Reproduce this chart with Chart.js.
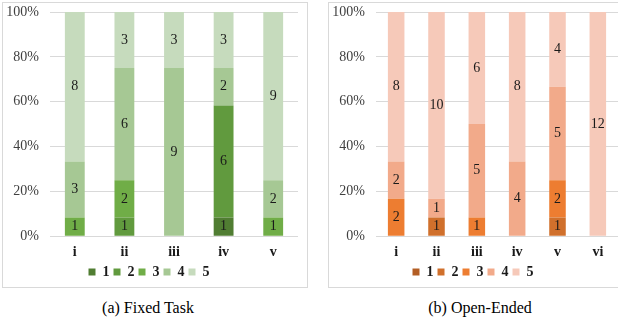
<!DOCTYPE html>
<html>
<head>
<meta charset="utf-8">
<script src="https://cdn.jsdelivr.net/npm/chart.js"></script>
<style>
  body { margin: 0; background: #fff; width: 618px; height: 318px; overflow: hidden; position: relative; font-family: "Liberation Serif", "Times New Roman", "DejaVu Serif", serif; }
  .box { position: absolute; border: 1px solid #d9d9d9; }
  .cv { position: absolute; }
  .cap { position: absolute; top: 299px; font-size: 16px; color: #000; text-align: center; }
</style>
</head>
<body>
<div class="box" style="left:2px; top:2px; width:304px; height:284px;"></div>
<div class="box" style="left:328px; top:2px; width:300px; height:284px;"></div>
<div class="cv" style="left:0px; top:0px; width:306px; height:290px;"><canvas id="fixedChart"></canvas></div>
<div class="cv" style="left:328px; top:0px; width:290px; height:290px;"><canvas id="openChart"></canvas></div>
<div class="cap" style="left:48px; width:200px;">(a) Fixed Task</div>
<div class="cap" style="left:380px; width:200px;">(b) Open-Ended</div>
<script>
var levels = ["1", "2", "3", "4", "5"];
var yTicks = [0, 20, 40, 60, 80, 100];

// Fixed Task: counts per level for each task
var fixedTasks = ["i", "ii", "iii", "iv", "v"];
var fixed1 = [0, 0, 0, 1, 0];
var fixed2 = [0, 1, 0, 6, 0];
var fixed3 = [1, 2, 0, 0, 1];
var fixed4 = [3, 6, 9, 2, 2];
var fixed5 = [8, 3, 3, 3, 9];
var greenColors = ["#507d32", "#619a3e", "#70ad47", "#a6c894", "#c6dbbd"];

// Open-Ended
var openTasks = ["i", "ii", "iii", "iv", "v", "vi"];
var open1 = [0, 0, 0, 0, 0, 0];
var open2 = [0, 1, 0, 0, 1, 0];
var open3 = [2, 0, 1, 0, 2, 0];
var open4 = [2, 1, 5, 4, 5, 0];
var open5 = [8, 10, 6, 8, 4, 12];
var orangeColors = ["#b35e24", "#d0702c", "#ed7d31", "#f2aa8a", "#f6c9b9"];

var serif = "Liberation Serif, Times New Roman, DejaVu Serif, serif";

function makeDatasets(series, colors) {
  var totals = series[0].map(function (v, i) {
    return series.reduce(function (s, arr) { return s + arr[i]; }, 0);
  });
  return series.map(function (arr, k) {
    return {
      label: levels[k],
      counts: arr,
      data: arr.map(function (v, i) { return v / totals[i] * 100; }),
      backgroundColor: colors[k]
    };
  });
}

var countLabels = {
  id: "countLabels",
  afterDatasetsDraw: function (chart) {
    var ctx = chart.ctx;
    ctx.save();
    ctx.font = "14px " + serif;
    ctx.fillStyle = "#1a1a1a";
    ctx.textAlign = "center";
    ctx.textBaseline = "middle";
    chart.data.datasets.forEach(function (ds, k) {
      chart.getDatasetMeta(k).data.forEach(function (bar, i) {
        if (!ds.counts[i]) return;
        var mid = (bar.y + bar.base) / 2;
        ctx.fillText(ds.counts[i], bar.x, mid);
      });
    });
    ctx.restore();
  }
};

function makeChart(id, labels, datasets, yWidth, padRight, barPct) {
  return new Chart(id, {
    type: "bar",
    data: { labels: labels, datasets: datasets },
    plugins: [countLabels],
    options: {
      responsive: true,
      maintainAspectRatio: false,
      animation: false,
      datasets: { bar: { categoryPercentage: 1, barPercentage: barPct } },
      layout: { padding: { top: 12, right: padRight, bottom: 1, left: 0 } },
      plugins: {
        legend: {
          position: "bottom",
          labels: {
            boxWidth: 7,
            boxHeight: 7,
            padding: 4,
            color: "#1a1a1a",
            font: { family: serif, size: 14, weight: "bold" }
          }
        },
        tooltip: { enabled: false }
      },
      scales: {
        x: {
          stacked: true,
          grid: { display: false },
          border: { display: false },
          ticks: { color: "#1a1a1a", padding: 0, font: { family: serif, size: 14, weight: "bold" } }
        },
        y: {
          stacked: true,
          min: 0,
          max: 100,
          afterBuildTicks: function (scale) {
            scale.ticks = yTicks.map(function (v) { return { value: v }; });
          },
          afterFit: function (scale) {
            scale.width = yWidth;
            scale.paddingTop = 0;
            scale.paddingBottom = 0;
          },
          grid: { color: "#d9d9d9", drawTicks: false },
          border: { display: false },
          ticks: {
            padding: 11,
            color: "#404040",
            font: { family: serif, size: 14 },
            callback: function (v) { return v + "%"; }
          }
        }
      }
    }
  });
}

makeChart("fixedChart", fixedTasks,
  makeDatasets([fixed1, fixed2, fixed3, fixed4, fixed5], greenColors), 50, 8, 0.4);
makeChart("openChart", openTasks,
  makeDatasets([open1, open2, open3, open4, open5], orangeColors), 48, 0, 0.41);
</script>
</body>
</html>
